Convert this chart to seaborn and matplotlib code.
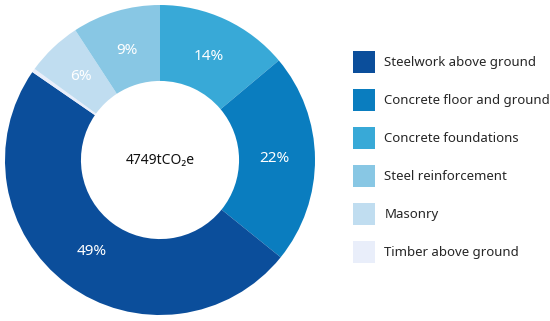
import matplotlib
matplotlib.use("Agg")
import matplotlib.pyplot as plt
import seaborn as sns
import numpy as np
from matplotlib.patches import Patch

sns.set_theme(style="white")
plt.rcParams['font.family'] = ['Noto Sans', 'DejaVu Sans']

# Data (clockwise from 12 o'clock)
slice_names = ["Concrete foundations", "Concrete floor and ground", "Steelwork above ground",
               "Timber above ground", "Masonry", "Steel reinforcement"]
slice_values = [13.9, 21.9, 48.8, 0.4, 5.8, 9.2]
slice_labels = ["14%", "22%", "49%", "", "6%", "9%"]
center_text = "4749tCO\u2082e"

legend_names = ["Steelwork above ground", "Concrete floor and ground", "Concrete foundations",
                "Steel reinforcement", "Masonry", "Timber above ground"]
colors = {
    "Steelwork above ground": "#0B4E9B",
    "Concrete floor and ground": "#0A7DBF",
    "Concrete foundations": "#38A9D7",
    "Steel reinforcement": "#88C7E4",
    "Masonry": "#C0DDF0",
    "Timber above ground": "#E9EEFA",
}

fig = plt.figure(figsize=(5.5, 3.21), dpi=100)
ax = fig.add_axes([5/550, 6/321, 310/550, 310/321])

wedges, _ = ax.pie(slice_values, startangle=90, counterclock=False,
                   colors=[colors[n] for n in slice_names],
                   radius=1.0,
                   wedgeprops=dict(width=0.49, edgecolor="none", linewidth=0))
for w, lab in zip(wedges, slice_labels):
    if not lab:
        continue
    ang = np.deg2rad((w.theta1 + w.theta2) / 2)
    r = 0.74
    ax.text(r*np.cos(ang), r*np.sin(ang), lab, ha="center", va="center",
            color="white", fontsize=11)

ax.text(0, 0, center_text, ha="center", va="center", color="#111111", fontsize=10)
ax.set_xlim(-1, 1)
ax.set_ylim(-1, 1)
ax.set_aspect("equal")
ax.axis("off")

handles = [Patch(facecolor=colors[n], edgecolor="none", label=n) for n in legend_names]
fig.legend(handles=handles, loc="upper left", bbox_to_anchor=(353/550, 1 - 51/321),
           frameon=False, fontsize=9.5, handlelength=1.667, handleheight=2.19,
           handletextpad=0.72, labelspacing=1.21, borderpad=0, borderaxespad=0)

fig.savefig("out.png", dpi=100)
